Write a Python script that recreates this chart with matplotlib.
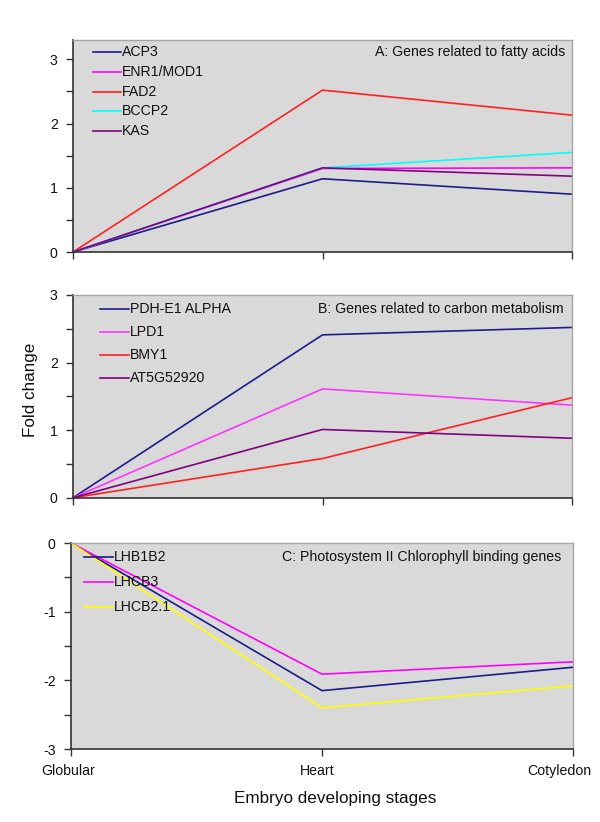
import matplotlib
matplotlib.use("Agg")
import matplotlib.pyplot as plt
import matplotlib.transforms as mtransforms
import numpy as np

plt.rcParams['font.family'] = ['Liberation Sans', 'DejaVu Sans']

stages = ["Globular", "Heart", "Cotyledon"]

# Panel A: genes related to fatty acids
a_names = ["ACP3", "ENR1/MOD1", "FAD2", "BCCP2", "KAS"]
a_colors = ["#1c1c8a", "#ff00ff", "#ff2020", "#00ffff", "#800080"]
acp3 = [0, 1.14, 0.90]
enr1 = [0, 1.30, 1.31]
fad2 = [0, 2.52, 2.13]
bccp2 = [0, 1.31, 1.55]
kas = [0, 1.31, 1.18]
a_vals = [acp3, enr1, fad2, bccp2, kas]

# Panel B: genes related to carbon metabolism
b_names = ["PDH-E1 ALPHA", "LPD1", "BMY1", "AT5G52920"]
b_colors = ["#1c1c8a", "#ff33ff", "#ff2020", "#800080"]
pdh = [0, 2.41, 2.52]
lpd1 = [0, 1.61, 1.37]
bmy1 = [0, 0.58, 1.48]
at5g = [0, 1.01, 0.88]
b_vals = [pdh, lpd1, bmy1, at5g]

# Panel C: photosystem II chlorophyll binding genes
c_names = ["LHB1B2", "LHCB3", "LHCB2.1"]
c_colors = ["#1c1c8a", "#ff00ff", "#ffff00"]
lhb1b2 = [0, -2.15, -1.81]
lhcb3 = [0, -1.91, -1.73]
lhcb21 = [0, -2.40, -2.08]
c_vals = [lhb1b2, lhcb3, lhcb21]

W, H = 600, 822
FS = 10.2
fig = plt.figure(figsize=(W / 100, H / 100), dpi=100)

def px_axes(left, right, top, bottom):
    return fig.add_axes([left / W, 1 - bottom / H, (right - left) / W, (bottom - top) / H])

x = np.arange(len(stages))

def style(ax, ylim, yticks, ylabels, names, colors, vals, leg_x0, leg_x1, leg_y, leg_dy, show_xlabels):
    ax.set_facecolor("#d9d9d9")
    for n, c, v in zip(names, colors, vals):
        ax.plot(x, v, color=c, lw=1.2, solid_joinstyle='miter', clip_on=False)
    ax.set_xlim(0, 2)
    ax.set_ylim(*ylim)
    ax.set_yticks(yticks)
    ax.set_yticklabels(ylabels)
    ax.set_xticks(x)
    if show_xlabels:
        ax.set_xticklabels(stages)
    else:
        ax.set_xticklabels([])
    ax.tick_params(axis='both', direction='out', length=5, width=1, color='#333333',
                   labelsize=FS, labelcolor='#111111')
    ax.tick_params(axis='x', pad=6)
    ax.tick_params(axis='y', pad=6)
    for s in ['left', 'bottom']:
        ax.spines[s].set_color('#333333')
        ax.spines[s].set_linewidth(1.2)
    for s in ['top', 'right']:
        ax.spines[s].set_color('#a6a6a6')
        ax.spines[s].set_linewidth(1.0)
    for i, (n, c) in enumerate(zip(names, colors)):
        yy = leg_y + i * leg_dy
        fig.add_artist(plt.Line2D([leg_x0 / W, leg_x1 / W], [1 - yy / H, 1 - yy / H],
                                  color=c, lw=1.2))
        fig.text((leg_x1 + 1) / W, 1 - yy / H, n, fontsize=FS, color='#111111',
                 ha='left', va='center')

axA = px_axes(73, 572, 40, 252)
style(axA, (0, 3.3), [0, 0.5, 1, 1.5, 2, 2.5, 3], ["0", "", "1", "", "2", "", "3"],
      a_names, a_colors, a_vals, 93, 121, 52, 19.8, False)
fig.text(565 / W, 1 - 52 / H, "A: Genes related to fatty acids", fontsize=FS,
         ha='right', va='center', color='#111111')

axB = px_axes(73, 572, 295, 497.7)
style(axB, (0, 3), [0, 0.5, 1, 1.5, 2, 2.5, 3], ["0", "", "1", "", "2", "", "3"],
      b_names, b_colors, b_vals, 100, 129, 309, 23, False)
fig.text(564 / W, 1 - 309 / H, "B: Genes related to carbon metabolism", fontsize=FS,
         ha='right', va='center', color='#111111')

axC = px_axes(71, 573, 543, 749)
style(axC, (-3, 0), [-3, -2.5, -2, -1.5, -1, -0.5, 0], ["-3", "", "-2", "", "-1", "", "0"],
      c_names, c_colors, c_vals, 84, 113, 557, 24.8, True)
fig.text(561 / W, 1 - 557 / H, "C: Photosystem II Chlorophyll binding genes", fontsize=FS,
         ha='right', va='center', color='#111111')

# shift x tick labels like the reference (Excel-style offsets)
shifts_px = [-3, -5, -14]
for lab, dx in zip(axC.get_xticklabels(), shifts_px):
    lab.set_transform(lab.get_transform() +
                      mtransforms.ScaledTranslation(dx / 100, 0, fig.dpi_scale_trans))

fig.text(335 / W, 1 - 798 / H, "Embryo developing stages", fontsize=12.3, ha='center',
         va='center', color='#111111')
fig.text(31 / W, 1 - 390 / H, "Fold change", fontsize=12.3, ha='center', va='center',
         rotation=90, color='#111111')

fig.savefig("out.png", dpi=100)
